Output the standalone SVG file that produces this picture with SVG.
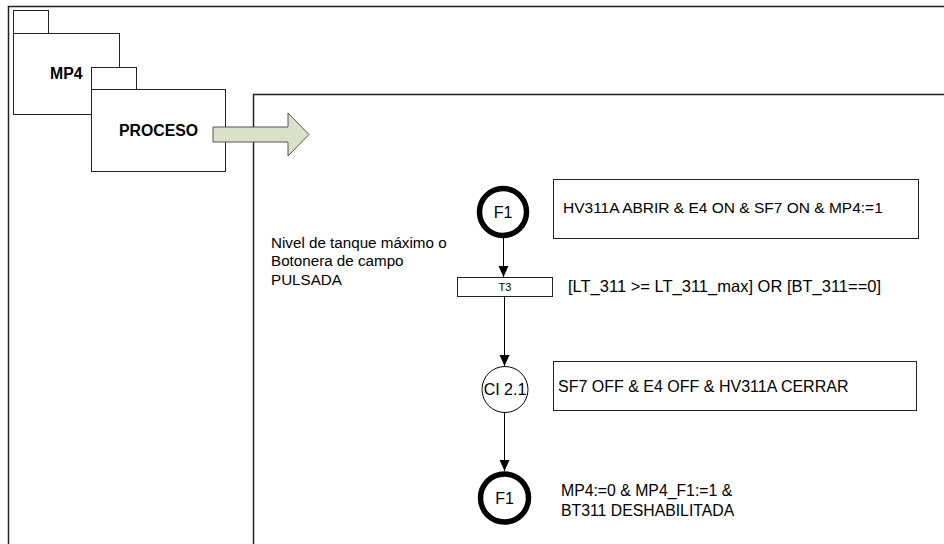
<svg xmlns="http://www.w3.org/2000/svg" width="944" height="544" viewBox="0 0 944 544">
<defs>
<style>
.frame{fill:none;stroke:#222;stroke-width:1.5}
.box{fill:#fff;stroke:#222;stroke-width:1}
.t{font-family:"Liberation Sans",Arial,sans-serif;font-size:16px;fill:#000}
.b{font-family:"Liberation Sans",Arial,sans-serif;font-size:15.8px;font-weight:bold;fill:#000}
.s{font-family:"Liberation Sans",Arial,sans-serif;font-size:11px;fill:#000}
.conn{stroke:#000;stroke-width:1;fill:none}
</style>
<marker id="ah" markerWidth="12" markerHeight="12" refX="11" refY="5" orient="auto" markerUnits="userSpaceOnUse" viewBox="0 0 12 10">
<path d="M0,0 L11,5 L0,10 Z" fill="#000"/>
</marker>
</defs>
<rect x="0" y="0" width="944" height="544" fill="#fff"/>
<g id="outer-frame"><rect class="frame" x="8.5" y="6.5" width="960" height="560"/></g>
<g id="MP4">
<rect class="box" x="13.5" y="10.5" width="35" height="23"/>
<rect class="box" x="13.5" y="33.5" width="106" height="81"/>
<text class="b" x="50" y="79">MP4</text>
</g>
<g id="PROCESO">
<rect class="box" x="91.5" y="67.5" width="45" height="22"/>
<rect class="box" x="91.5" y="89.5" width="134" height="82"/>
<text class="b" x="119" y="136">PROCESO</text>
</g>
<g id="inner-frame"><rect class="frame" x="253.5" y="94.5" width="720" height="480"/></g>
<g id="block-arrow">
<polygon points="213,127 288,127 288,113 309,134.5 288,156 288,142 213,142" fill="#dbe0cb" stroke="#555" stroke-width="1"/>
</g>
<g id="connectors">
<line class="conn" x1="503.5" y1="238" x2="503.5" y2="277" marker-end="url(#ah)"/>
<line class="conn" x1="504.5" y1="296" x2="504.5" y2="366" marker-end="url(#ah)"/>
<line class="conn" x1="504.5" y1="412" x2="504.5" y2="471" marker-end="url(#ah)"/>
</g>
<g id="F1-top">
<circle cx="503" cy="212" r="23.5" fill="#fff" stroke="#000" stroke-width="5.5"/>
<text class="t" x="503" y="217.5" text-anchor="middle">F1</text>
</g>
<g id="action1">
<rect class="box" x="553.5" y="179.5" width="365" height="59"/>
<text class="t" x="563" y="213" style="font-size:15.5px">HV311A ABRIR &amp; E4 ON &amp; SF7 ON &amp; MP4:=1</text>
</g>
<g id="label-left">
<text class="t" x="271" y="248" style="font-size:15.2px">Nivel de tanque máximo o</text>
<text class="t" x="271" y="266" style="font-size:15.2px">Botonera de campo</text>
<text class="t" x="271" y="285" style="font-size:15.2px">PULSADA</text>
</g>
<g id="T3">
<rect class="box" x="457.5" y="277.5" width="95" height="19"/>
<text class="s" x="505" y="291" text-anchor="middle">T3</text>
<text class="t" x="568" y="292" style="font-size:16.5px">[LT_311 &gt;= LT_311_max] OR [BT_311==0]</text>
</g>
<g id="CI21">
<circle cx="505" cy="389.5" r="23" fill="#fff" stroke="#000" stroke-width="1"/>
<text class="t" x="505" y="395" text-anchor="middle">CI 2.1</text>
</g>
<g id="action2">
<rect class="box" x="553.5" y="361.5" width="363" height="49"/>
<text class="t" x="558" y="392">SF7 OFF &amp; E4 OFF &amp; HV311A CERRAR</text>
</g>
<g id="F1-bottom">
<circle cx="504.5" cy="498" r="24" fill="#fff" stroke="#000" stroke-width="5.5"/>
<text class="t" x="504.5" y="503.5" text-anchor="middle">F1</text>
<text class="t" x="561" y="496" style="font-size:15.8px">MP4:=0 &amp; MP4_F1:=1 &amp;</text>
<text class="t" x="561" y="516" style="font-size:15.8px">BT311 DESHABILITADA</text>
</g>
</svg>
